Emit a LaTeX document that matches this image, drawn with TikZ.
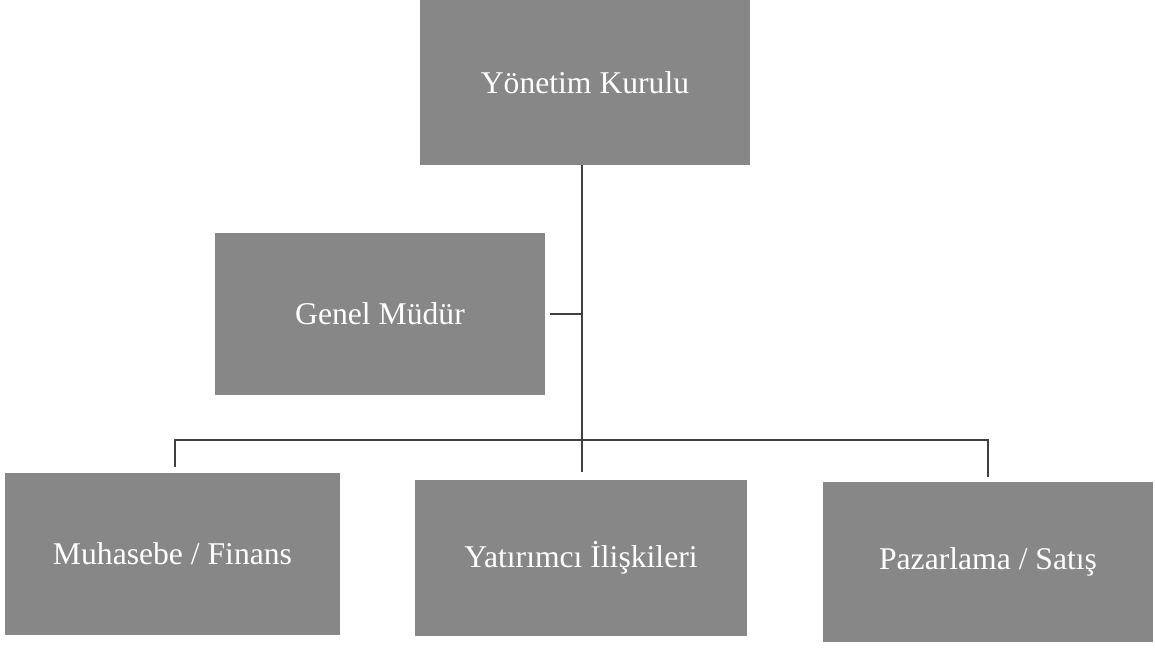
\documentclass[tikz,border=0pt]{standalone}
\usepackage{fontspec}
\setmainfont{Liberation Serif}
\usepackage{tikz}

\tikzset{
    unit/.style={fill=black!47, text=white, inner sep=0pt, font=\fontsize{22.5}{27}\selectfont},
    conn/.style={draw=black!75, line width=1.3pt}
}

\begin{document}
\begin{tikzpicture}[x=0.025cm,y=-0.025cm]
    \useasboundingbox (0,0) rectangle (1155,648);
    \node[unit, minimum width=8.25cm, minimum height=4.125cm] (yk) at (585,82.5) {Yönetim Kurulu};
    \node[unit, minimum width=8.25cm, minimum height=4.05cm] (gm) at (380,314) {Genel Müdür};
    \node[unit, minimum width=8.375cm, minimum height=4.05cm] (mf) at (172.5,554) {Muhasebe / Finans};
    \node[unit, minimum width=8.3cm, minimum height=3.9cm] (yi) at (581,558) {Yatırımcı İlişkileri};
    \node[unit, minimum width=8.25cm, minimum height=4cm] (ps) at (988,562) {Pazarlama / Satış};
    \coordinate (bus) at (582,440);
    \draw[conn] (yk.south -| bus) -- ([yshift=0.2cm]yi.north -| bus);
    \draw[conn] ([xshift=0.12cm]gm.east) -- (gm.east -| bus);
    \draw[conn] ([xshift=0.06cm,yshift=0.15cm]mf.north) |- (bus) -| ([yshift=0.12cm]ps.north);
\end{tikzpicture}
\end{document}
